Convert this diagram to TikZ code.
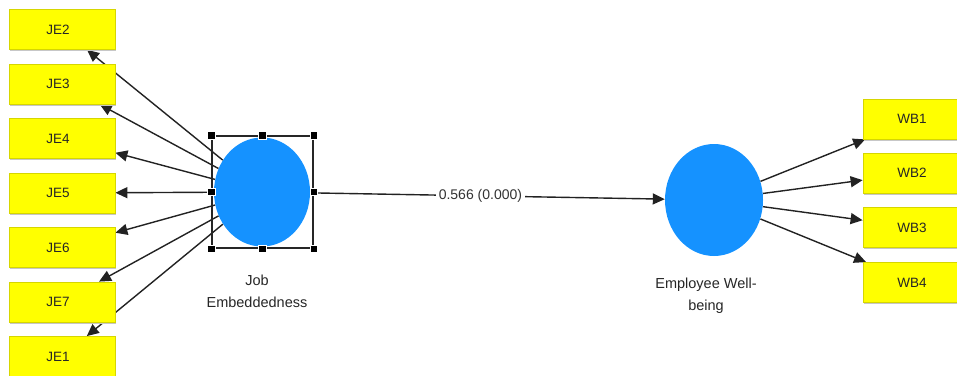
\documentclass[tikz,border=0pt]{standalone}
\usepackage{fontspec}
\setmainfont{Liberation Sans}
\usetikzlibrary{shapes.geometric,arrows.meta}
\definecolor{lvblue}{HTML}{1592FF}
\definecolor{indyellow}{HTML}{FFFF00}
\definecolor{indedge}{HTML}{D6D600}
\definecolor{linkgray}{HTML}{222222}
\pgfdeclarelayer{links}
\pgfsetlayers{links,main}

\begin{document}
\begin{tikzpicture}[x=1pt,y=-1pt,
  indicator/.style={rectangle, fill=indyellow, draw=indedge, line width=0.8pt,
    minimum width=106pt, minimum height=40pt, inner sep=0pt,
    font=\fontsize{13.5}{15}\selectfont, text=black!85,
    execute at begin node=\hspace*{-8pt},
    preaction={fill=black!22, draw=none, transform canvas={xshift=1.2pt,yshift=-1.6pt}}},
  latent/.style={ellipse, fill=lvblue, draw=none, inner sep=0pt},
  link/.style={draw=linkgray, line width=1.4pt, -{Triangle[length=12pt,width=11pt]}},
  handle/.style={rectangle, fill=black, draw=white, line width=0.6pt,
    minimum size=7.5pt, inner sep=0pt},
  lvlabel/.style={align=center, font=\fontsize{14.5}{22}\selectfont, text=black!85},
  coef/.style={fill=white, inner xsep=3pt, inner ysep=1pt,
    font=\fontsize{14}{16}\selectfont, text=black!80}]

\useasboundingbox (0,0) rectangle (957,375);
\clip (0,0) rectangle (957,375);

% latent variables
\node[latent, minimum width=96pt, minimum height=109pt] (je) at (262,192) {};
\node[latent, minimum width=98pt, minimum height=112pt] (ewb) at (714,200) {};

% indicator boxes of Job Embeddedness
\node[indicator] (je2) at (62,29.5) {JE2};
\node[indicator] (je3) at (62,84) {JE3};
\node[indicator] (je4) at (62,138.5) {JE4};
\node[indicator] (je5) at (62,193) {JE5};
\node[indicator] (je6) at (62,247.5) {JE6};
\node[indicator] (je7) at (62,302) {JE7};
\node[indicator] (je1) at (62,356.5) {JE1};

% indicator boxes of Employee Well-being
\node[indicator] (wb1) at (916,119) {WB1};
\node[indicator] (wb2) at (916,173) {WB2};
\node[indicator] (wb3) at (916,227.5) {WB3};
\node[indicator] (wb4) at (916,282.5) {WB4};

% construct labels
\node[lvlabel] (jelab) at (257,291) {Job\\Embeddedness};
\node[lvlabel] (ewblab) at (706,296) {Employee Well-\\being};

% loadings and path, kept beneath the boxes
\begin{pgfonlayer}{links}
  \foreach \t in {je1,je2,je3,je4,je5,je6,je7}
    \draw[link] (je) -- (\t);
  \foreach \t in {wb1,wb2,wb3,wb4}
    \draw[link] (ewb) -- (\t);
  \draw[link] (je) -- node[coef, pos=0.48] (pc) {0.566 (0.000)} (ewb);
\end{pgfonlayer}

% selection frame with its handles
\node[draw=black!85, line width=1.2pt, rectangle, minimum width=101pt,
  minimum height=112pt, inner sep=0pt] (sel) at (262.5,192) {};
\foreach \a in {north west,north,north east,west,east,south west,south,south east}
  \node[handle] at (sel.\a) {};

\end{tikzpicture}
\end{document}
